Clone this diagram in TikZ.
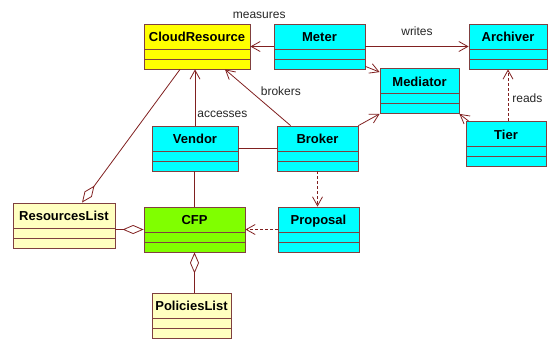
\documentclass[tikz,border=0pt]{standalone}
\usepackage{fontspec}
\setmainfont{Liberation Sans}
\usetikzlibrary{arrows.meta,positioning}

\definecolor{umlline}{RGB}{128,32,32}
\definecolor{umlborder}{RGB}{128,64,64}
\definecolor{umlcyan}{RGB}{0,255,255}
\definecolor{umlyellow}{RGB}{255,255,0}
\definecolor{umlgreen}{RGB}{128,255,0}
\definecolor{umlcream}{RGB}{255,255,192}

\begin{document}
\begin{tikzpicture}[x=1pt,y=-1pt,on grid,line width=0.8pt,
    >={Straight Barb[length=9pt,width=10pt]},
    class/.style={draw=umlborder,fill=umlcyan,inner xsep=0pt,inner ysep=0pt,
      text height=17.5pt,text depth=27.5pt,font=\fontsize{13}{15}\selectfont\bfseries,
      path picture={\draw[umlborder,line width=0.8pt]
        ([yshift=-25pt]path picture bounding box.north west) -- ([yshift=-25pt]path picture bounding box.north east)
        ([yshift=-35pt]path picture bounding box.north west) -- ([yshift=-35pt]path picture bounding box.north east);}},
    lbl/.style={font=\fontsize{12}{14}\selectfont,text=black!85,inner sep=2pt},
    agg/.style={{Diamond[open,length=21pt,width=9pt]}-},
    dep/.style={->,dash pattern=on 3pt off 2pt}]
    \useasboundingbox (0,0) rectangle (548,338);

    \node[class,fill=umlyellow,minimum width=106pt] (cloud)    at (197,46.5)          {CloudResource};
    \node[class,minimum width=91pt]                 (meter)    [right=122.5pt of cloud] {Meter};
    \node[class,minimum width=78pt]                 (archiver) [right=188.5pt of meter] {Archiver};
    \node[class,minimum width=79pt]                 (mediator) at (419.5,91)          {Mediator};
    \node[class,minimum width=80pt]                 (tier)     at (506,144)           {Tier};
    \node[class,minimum width=86pt]                 (vendor)   at (195,148.5)         {Vendor};
    \node[class,minimum width=81pt]                 (broker)   [right=122.5pt of vendor] {Broker};
    \node[class,fill=umlgreen,minimum width=101pt]  (cfp)      at (194.5,229.5)       {CFP};
    \node[class,minimum width=81pt]                 (proposal) [right=124pt of cfp]   {Proposal};
    \node[class,fill=umlcream,minimum width=102pt]  (reslist)  at (64,225.5)          {ResourcesList};
    \node[class,fill=umlcream,minimum width=79pt]   (policies) at (191.5,315.5)       {PoliciesList};

    \path[umlline,->]
        (meter.west) edge node[lbl,pos=0.62,anchor=south,yshift=25pt] {measures} (cloud.east)
        (meter.east) edge node[lbl,midway,anchor=south,yshift=8.5pt] {writes} (archiver.west)
        ([yshift=3pt]meter.south east) edge ([yshift=-4pt]mediator.north west)
        (broker.north east) edge (mediator.south west)
        ([xshift=3pt]tier.north west) edge (mediator.south east)
        (vendor.north) edge node[lbl,pos=0.1,anchor=south west] {accesses} (vendor.north |- cloud.south)
        ([xshift=14pt]broker.north west) edge node[lbl,pos=0.49,anchor=south west] {brokers} ([xshift=28pt]cloud.south);

    \path[umlline]
        (archiver.south |- tier.north) edge[dep] node[lbl,pos=0.32,anchor=south west,xshift=2pt] {reads} (archiver.south)
        (broker.south) edge[dep] (broker.south |- proposal.north)
        (proposal.west) edge[dep] (proposal.west -| cfp.east)
        (vendor.east) edge (broker.west)
        (cfp.north) edge (cfp.north |- vendor.south)
        (cfp.west) edge[agg] (cfp.west -| reslist.east)
        ([xshift=18pt]reslist.north) edge[agg] ([xshift=-17pt]cloud.south)
        (cfp.south) edge[agg] (cfp.south |- policies.north);
\end{tikzpicture}
\end{document}
